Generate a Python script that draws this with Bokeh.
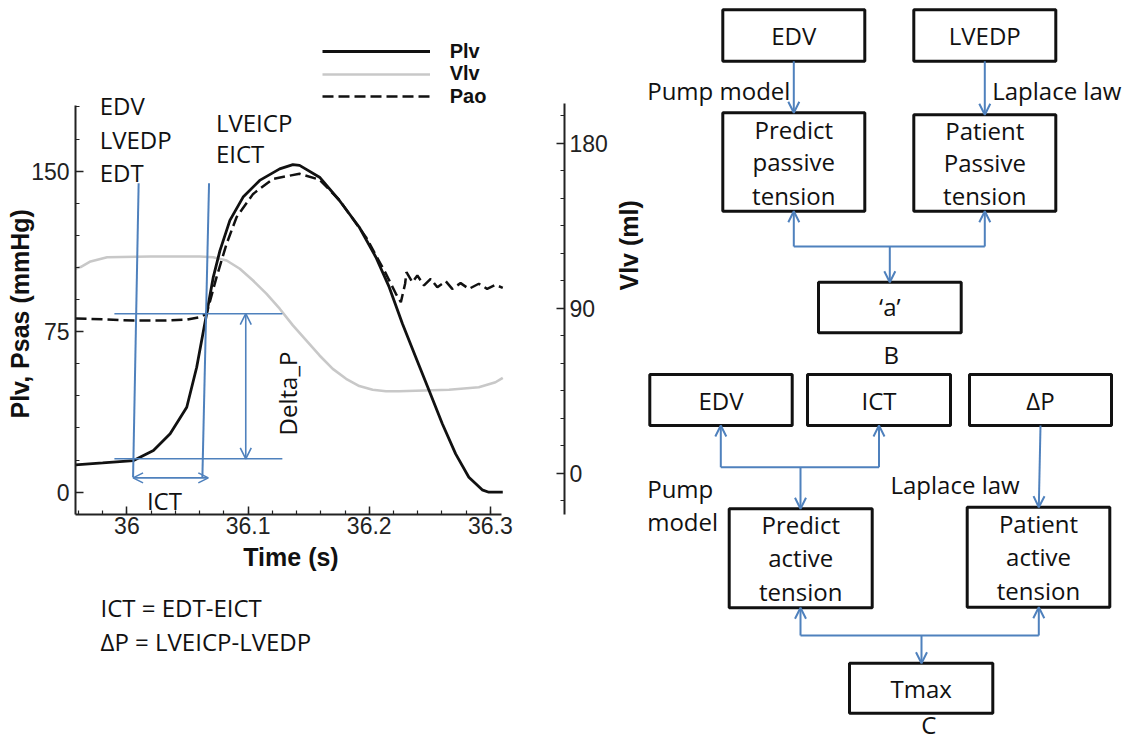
import math
import numpy as np
from bokeh.plotting import figure
from bokeh.models import (Range1d, LinearAxis, FixedTicker, Label, Arrow, OpenHead,
                          Legend, LegendItem, CustomJSTickFormatter, Title)
from bokeh.layouts import row, column
from bokeh.embed import file_html
from bokeh.resources import INLINE
from bokeh.core.properties import value

# ---------------- data ----------------
plv_t = [35.9576, 35.98, 36.0055, 36.0219, 36.0357, 36.0494, 36.0576, 36.0658, 36.0713,
         36.0768, 36.085, 36.0959, 36.1096, 36.1261, 36.137, 36.1425, 36.159, 36.1754,
         36.1918, 36.2055, 36.2165, 36.2274, 36.2384, 36.2494, 36.2603, 36.2713, 36.2822,
         36.2932, 36.2987, 36.3102]
plv_p = [12.8, 13.7, 14.8, 19.5, 27.3, 39.7, 58.4, 83.4, 100.5,
         112.9, 127.0, 137.9, 145.7, 151.1, 153.1, 152.7, 147.2, 136.3,
         123.8, 109.8, 95.8, 78.7, 63.1, 47.5, 32.0, 17.9, 7.0,
         1.1, 0.0, 0.0]

vlv_t = [35.9576, 35.9618, 35.9700, 35.9837, 36.0193, 36.0603, 36.0713, 36.0823, 36.0932,
         36.1041, 36.1151, 36.1261, 36.137, 36.148, 36.159, 36.1699, 36.1809, 36.1918,
         36.2028, 36.2138, 36.2247, 36.2658, 36.2904, 36.3042, 36.3102]
vlv_v = [111.6, 112.4, 115.5, 117.8, 118.2, 118.2, 117.8, 116.0, 111.5,
         105.1, 97.9, 89.7, 80.6, 72.4, 64.2, 56.9, 51.5, 47.5,
         45.5, 44.7, 44.7, 45.5, 46.9, 49.6, 52.0]

pao_t = [35.9576, 35.98, 36.0056, 36.0300, 36.0494, 36.0603, 36.0658, 36.074, 36.0823,
         36.0905, 36.1042, 36.1206, 36.1425, 36.159, 36.1754, 36.1973, 36.2138, 36.222,
         36.2261, 36.2296, 36.2307, 36.2356, 36.2397, 36.2452, 36.2507, 36.2562, 36.2631,
         36.2685, 36.2754, 36.2822, 36.2904, 36.2973, 36.3042, 36.3102]
pao_p = [81.2, 80.8, 80.2, 80.2, 80.6, 81.8, 83.4, 100.5, 116.1,
         128.5, 139.4, 146.4, 148.8, 146.0, 136.5, 119.2, 102.1, 92.7,
         88.8, 97.4, 102.8, 98.1, 101.3, 96.6, 99.7, 95.8, 98.6,
         95.0, 97.7, 95.0, 97.4, 95.0, 96.9, 95.5]

series_names = ["Plv", "Vlv", "Pao"]
time_ticks = [36.0, 36.1, 36.2, 36.3]
p_ticks = [0, 75, 150]
v_ticks = [0, 90, 180]

# annotation markers
edt_line_t = [36.0051, 36.0097]
eict_line_t = [36.0623, 36.0678]
marker_line_p = [7.0, 144.4]
lvedp = 15.6
lveicp = 83.4
hline_t = [35.9897, 36.1283]
delta_t = 36.0981
ict_arrow_p = 6.7

BLUE = "#4f81bd"
INK = "#111111"
ANN_FONT = "Open Sans"
AX_FONT = "Liberation Sans"

# ---------------- chart ----------------
p = figure(width=610, height=542,
           x_range=Range1d(35.95759, 36.36114), y_range=Range1d(-10.42, 211.07),
           output_backend="svg", toolbar_location=None,
           min_border_left=75, min_border_right=44, min_border_top=40, min_border_bottom=28)
p.frame_align = False
p.extra_y_ranges = {"vol": Range1d(-22.53, 236.0)}
p.xgrid.visible = False
p.ygrid.visible = False
p.outline_line_color = None

vaxis = LinearAxis(y_range_name="vol")
p.add_layout(vaxis, "right")

xax = p.xaxis[0]
yax = p.yaxis[0]
xax.ticker = FixedTicker(ticks=time_ticks, minor_ticks=list(np.round(np.arange(35.96, 36.31, 0.02), 2)))
xax.formatter = CustomJSTickFormatter(code="return String(Math.round(tick*10)/10)")
xax.bounds = (35.9576, 36.3095)
xax.major_label_standoff = 2
yax.ticker = FixedTicker(ticks=p_ticks, minor_ticks=list(range(0, 181, 15)))
yax.bounds = (-10.42, 180.7)
yax.major_label_standoff = 6
vaxis.ticker = FixedTicker(ticks=v_ticks, minor_ticks=list(range(-15, 200, 15)))
vaxis.bounds = (-22.5, 201.5)
vaxis.major_label_standoff = 5

for ax in (xax, yax, vaxis):
    ax.axis_line_width = 2
    ax.axis_line_color = "#222222"
    ax.major_tick_in = 8
    ax.major_tick_out = 0
    ax.minor_tick_in = 4
    ax.minor_tick_out = 0
    ax.major_tick_line_width = 1.5
    ax.minor_tick_line_width = 1.2
    ax.major_tick_line_color = "#222222"
    ax.minor_tick_line_color = "#222222"
    ax.major_label_text_font = AX_FONT
    ax.major_label_text_font_size = "23px"
    ax.major_label_text_color = "#222222"

p.add_layout(Title(text="Plv, Psas (mmHg)", align="left", offset=96, standoff=-10,
                   text_font=AX_FONT, text_font_size="25px", text_font_style="bold",
                   text_color=INK), "left")

r_vlv = p.line(vlv_t, vlv_v, y_range_name="vol", line_color="#c8c8c8", line_width=2.6)
r_pao = p.line(pao_t, pao_p, line_color=INK, line_width=2.5, line_dash="11 5")
r_plv = p.line(plv_t, plv_p, line_color=INK, line_width=2.8)

# blue construction lines
p.line(edt_line_t, marker_line_p, line_color=BLUE, line_width=2)
p.line(eict_line_t, marker_line_p, line_color=BLUE, line_width=2)
p.segment(x0=[hline_t[0]] * 2, y0=[lvedp, lveicp], x1=[hline_t[1]] * 2, y1=[lvedp, lveicp],
          line_color=BLUE, line_width=1.6)
p.add_layout(Arrow(start=OpenHead(size=11, line_color=BLUE, line_width=1.6),
                   end=OpenHead(size=11, line_color=BLUE, line_width=1.6),
                   x_start=delta_t, y_start=lveicp, x_end=delta_t, y_end=lvedp,
                   line_color=BLUE, line_width=1.6))
p.add_layout(Arrow(start=OpenHead(size=10, line_color=BLUE, line_width=1.6),
                   end=OpenHead(size=10, line_color=BLUE, line_width=1.6),
                   x_start=edt_line_t[0], y_start=ict_arrow_p, x_end=eict_line_t[1] - 0.0006,
                   y_end=ict_arrow_p, line_color=BLUE, line_width=1.6))

# legend: one single-item legend per row so the rows can sit close together
for i, (name, rend) in enumerate(zip(series_names, [r_plv, r_vlv, r_pao])):
    p.add_layout(Legend(items=[LegendItem(label=name, renderers=[rend])],
                        location=(246.7, 451.2 - 22.5 * i),
                        glyph_width=108, glyph_height=22, label_standoff=20, label_height=22,
                        padding=0, margin=0, spacing=0,
                        border_line_color=None, background_fill_alpha=0,
                        label_text_font=AX_FONT, label_text_font_style="bold",
                        label_text_font_size="20px", label_text_color=INK))


def lab(fig, x, y, text, size="24px", font=ANN_FONT, bold=False, angle=0.0, align="left"):
    fig.add_layout(Label(x=x, y=y, text=text, text_font=font, text_font_size=size,
                         text_font_style="bold" if bold else "normal", angle=angle,
                         text_align=align, text_baseline="middle", text_color=INK))


lab(p, 35.97756, 180.54, "EDV")
lab(p, 35.97756, 164.81, "LVEDP")
lab(p, 35.97756, 149.23, "EDT")
lab(p, 36.07348, 172.59, "LVEICP")
lab(p, 36.07348, 158.11, "EICT")
lab(p, 36.01652, -3.88, "ICT")
lab(p, 36.13265, 46.12, "Delta_P", angle=math.pi / 2, align="center")

# ---------------- texts under the chart ----------------
e = figure(width=610, height=200, x_range=Range1d(0, 610), y_range=Range1d(742, 542),
           output_backend="svg", toolbar_location=None, x_axis_type=None, y_axis_type=None,
           min_border=0)
e.frame_align = False
e.outline_line_color = None
e.text(x=[290.5], y=[556.0], text=["Time (s)"], text_font=value(AX_FONT), text_font_size="25px",
       text_font_style="bold", text_align="center", text_baseline="middle", text_color=INK)
e.text(x=[100.0, 100.0], y=[606.65, 640.8], text=["ICT = EDT-EICT", "\u0394P = LVEICP-LVEDP"],
       text_font=value(ANN_FONT), text_font_size="24px", text_align="left",
       text_baseline="middle", text_color=INK)

# ---------------- flow diagrams ----------------
d = figure(width=514, height=742, x_range=Range1d(644, 1124), y_range=Range1d(742, 0),
           output_backend="svg", toolbar_location=None, x_axis_type=None, y_axis_type=None,
           min_border=0, min_border_left=34)
d.frame_align = False
d.outline_line_color = None
d.add_layout(Title(text="Vlv (ml)", align="left", offset=452, standoff=0, vertical_align="top",
                   text_font=AX_FONT, text_font_size="25px", text_font_style="bold",
                   text_color=INK), "left")

# box layout: (left, right, top, bottom, lines, line centres)
boxes = [
    (722.3, 864.3, 9.3, 60.7, ["EDV"], [35.3]),
    (913.3, 1055.3, 9.3, 60.7, ["LVEDP"], [35.3]),
    (722.3, 864.3, 112.3, 210.7, ["Predict", "passive", "tension"], [128.7, 161.4, 194.7]),
    (913.3, 1055.3, 114.3, 210.7, ["Patient", "Passive", "tension"], [129.7, 162.1, 195.4]),
    (818.0, 960.7, 281.7, 332.3, ["\u2018a\u2019"], [306.4]),
    (649.3, 791.7, 374.0, 425.0, ["EDV"], [399.7]),
    (807.0, 950.0, 374.0, 425.0, ["ICT"], [399.7]),
    (969.0, 1111.0, 374.0, 425.0, ["\u0394P"], [399.7]),
    (728.7, 871.7, 508.3, 607.3, ["Predict", "active", "tension"], [524.1, 557.4, 590.7]),
    (966.7, 1109.3, 506.7, 606.7, ["Patient", "active", "tension"], [523.1, 556.4, 589.7]),
    (849.0, 992.3, 662.7, 712.7, ["Tmax"], [688.1]),
]
d.quad(left=[b[0] for b in boxes], right=[b[1] for b in boxes],
       top=[b[2] for b in boxes], bottom=[b[3] for b in boxes],
       fill_color=None, line_color=INK, line_width=3)
tx, ty, tt = [], [], []
for b in boxes:
    for s, yc in zip(b[4], b[5]):
        tx.append((b[0] + b[1]) / 2)
        ty.append(yc)
        tt.append(s)
d.text(x=tx, y=ty, text=tt, text_font=value(ANN_FONT), text_font_size="24px",
       text_align="center", text_baseline="middle", text_color=INK)

free_texts = [
    (646.7, 89.7, "Pump model", "left"),
    (991.7, 89.7, "Laplace law", "left"),
    (890.7, 354.1, "B", "center"),
    (646.7, 488.1, "Pump", "left"),
    (646.7, 520.7, "model", "left"),
    (890.0, 484.1, "Laplace law", "left"),
    (928.3, 724.0, "C", "center"),
]
for x, y, s, al in free_texts:
    d.text(x=[x], y=[y], text=[s], text_font=value(ANN_FONT), text_font_size="24px",
           text_align=al, text_baseline="middle", text_color=INK)

# connectors: arrows (x0, y0, x1, y1) with head at end; plain segments
arrows = [
    (793.3, 60.7, 793.3, 112.3), (984.3, 60.7, 984.3, 114.3),
    (793.3, 246.0, 793.3, 210.7), (984.3, 246.0, 984.3, 210.7), (889.3, 246.0, 889.3, 281.7),
    (720.3, 466.7, 720.3, 425.0), (878.5, 466.7, 878.5, 425.0), (800.0, 466.7, 800.0, 508.3),
    (1040.0, 425.0, 1038.3, 506.7),
    (800.0, 635.0, 800.0, 607.3), (1038.3, 635.0, 1038.3, 606.7), (921.0, 635.0, 921.0, 662.7),
]
for x0, y0, x1, y1 in arrows:
    d.add_layout(Arrow(end=OpenHead(size=11, line_color=BLUE, line_width=2),
                       x_start=x0, y_start=y0, x_end=x1, y_end=y1,
                       line_color=BLUE, line_width=2))
d.segment(x0=[793.3, 720.3, 800.0], y0=[246.0, 466.7, 635.0],
          x1=[984.3, 878.5, 1038.3], y1=[246.0, 466.7, 635.0],
          line_color=BLUE, line_width=2)

layout = row(column(p, e), d)
open("out.html", "w").write(file_html(layout, INLINE))
